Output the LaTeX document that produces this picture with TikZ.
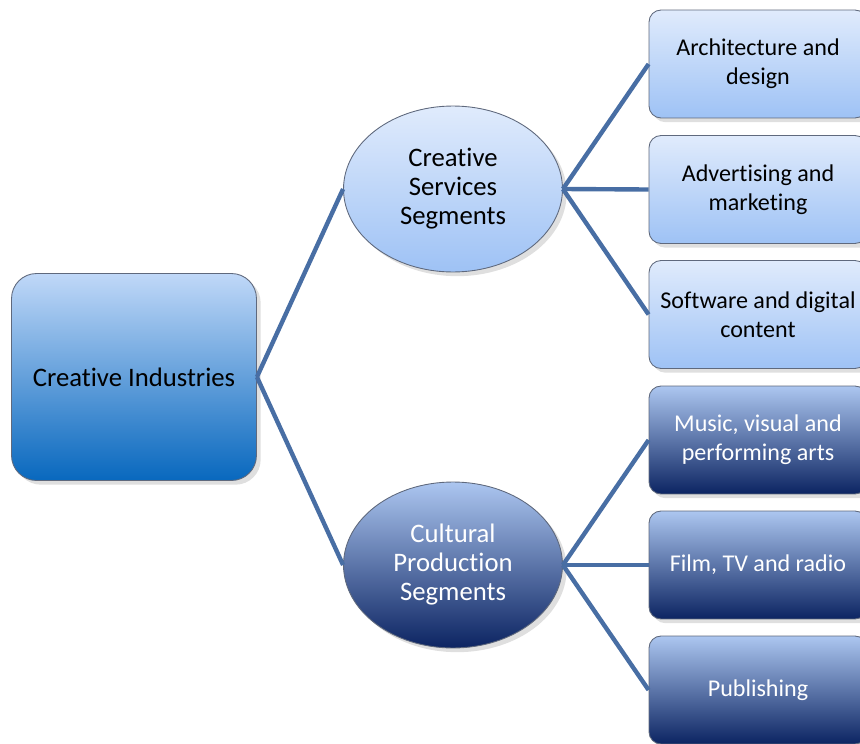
\documentclass[tikz,border=0pt]{standalone}
\usepackage{fontspec}
\setmainfont{Carlito}[Ligatures=NoCommon]
\usetikzlibrary{shapes.geometric,shadows}
\definecolor{rootTop}{RGB}{192,216,248}
\definecolor{rootBot}{RGB}{8,104,190}
\definecolor{lightTop}{RGB}{224,235,252}
\definecolor{lightBot}{RGB}{158,194,245}
\definecolor{darkTop}{RGB}{172,198,240}
\definecolor{darkBot}{RGB}{12,36,98}
\definecolor{edgeBlue}{RGB}{72,110,164}
\definecolor{rim}{RGB}{95,105,125}

\begin{document}
\begin{tikzpicture}[x=0.02cm,y=-0.02cm]
\tikzstyle{rootbox}=[rectangle, rounded corners=0.5cm, draw=rim, line width=0.5pt,
    top color=rootTop, bottom color=rootBot, minimum width=4.9cm,
    minimum height=4.14cm, font=\fontsize{15.2}{16.5}\selectfont,
    drop shadow={opacity=0.25}]
\tikzstyle{lightbox}=[rectangle, rounded corners=0.24cm, draw=rim, line width=0.5pt,
    top color=lightTop, bottom color=lightBot, minimum width=4.36cm,
    minimum height=2.16cm, inner sep=1pt, align=center,
    font=\fontsize{13.7}{16.5}\selectfont, drop shadow={opacity=0.25}]
\tikzstyle{darkbox}=[lightbox, top color=darkTop, bottom color=darkBot, text=white]
\tikzstyle{lightseg}=[ellipse, draw=rim, line width=0.5pt, inner sep=0pt,
    top color=lightTop, bottom color=lightBot, minimum width=4.38cm,
    minimum height=3.32cm, align=center, font=\fontsize{15.2}{16.5}\selectfont,
    drop shadow={opacity=0.25}]
\tikzstyle{darkseg}=[lightseg, top color=darkTop, bottom color=darkBot, text=white]
\tikzstyle{link}=[edgeBlue, line width=2.5pt]

\useasboundingbox (0,0) rectangle (860,744);

    \node[rootbox] (ci) at (134,377) {Creative Industries};

    \node[lightseg] (css) at (453,189) {Creative\\Services\\Segments};
    \node[darkseg] (cps) at (453,565) {Cultural\\Production\\Segments};

    \node[lightbox] (arch) at (758,64) {Architecture and\\design};
    \node[lightbox] (adv) at (758,189.5) {Advertising and\\marketing};
    \node[lightbox] (soft) at (758,314.5) {Software and digital\\content};

    \node[darkbox] (music) at (758,440) {Music, visual and\\performing arts};
    \node[darkbox] (film) at (758,565) {Film, TV and radio};
    \node[darkbox] (pub) at (758,690) {Publishing};

\draw[link] (ci.east)--(css.west);
\draw[link] (ci.east)--(cps.west);

\draw[link] (css.east)--(arch.west);
\draw[link] (css.east)--(adv.west);
\draw[link] (css.east)--(soft.west);

\draw[link] (cps.east)--(music.west);
\draw[link] (cps.east)--(film.west);
\draw[link] (cps.east)--(pub.west);
\end{tikzpicture}
\end{document}
